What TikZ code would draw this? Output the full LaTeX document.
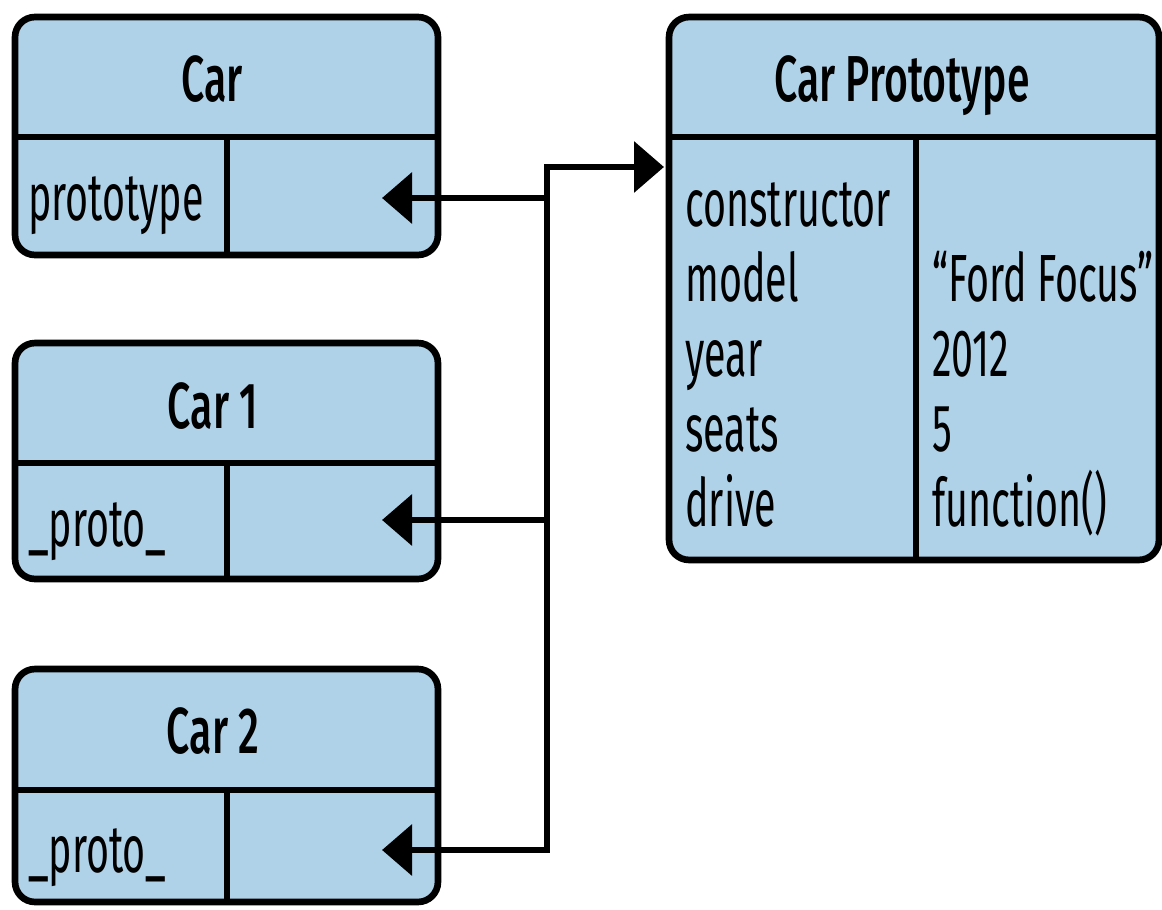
\documentclass[tikz,border=0pt]{standalone}
\usepackage{fontspec}
\setmainfont{Fira Sans}[FakeStretch=0.59]
\newfontfamily\headfont{Fira Sans Medium}[FakeStretch=0.63]
\usetikzlibrary{arrows.meta, positioning}
\tikzset{>={Triangle[length=0.6cm, width=1cm]}}
\definecolor{boxblue}{RGB}{175,210,232}

\begin{document}
\begin{tikzpicture}[x=0.02cm, y=-0.02cm,
  objbox/.style={draw, line width=3.8pt, fill=boxblue, rounded corners=0.4cm, inner sep=0pt, outer sep=0pt},
  rule/.style={line width=3.8pt},
  title/.style={font=\fontsize{37}{40}\headfont, anchor=base, inner sep=0pt},
  slot/.style={font=\fontsize{38}{40}\selectfont, anchor=base west, inner sep=0pt},
  link/.style={->, line width=3.8pt}
]
\useasboundingbox (0,0) rectangle (1162,909);

% Object boxes
\node[objbox, minimum width=8.46cm, minimum height=4.76cm] (car) at (226.5,136) {};
\node[objbox, minimum width=8.46cm, minimum height=4.72cm] (car1) at (226.5,461) {};
\node[objbox, minimum width=8.46cm, minimum height=4.66cm] (car2) at (226.5,785.5) {};
\node[objbox, minimum width=9.8cm, minimum height=10.86cm] (proto) at (914,288.5) {};

% Header and slot rules
\draw[rule] (15,137) -- (438,137);
\draw[rule] (227,137) -- (227,255);
\draw[rule] (15,463) -- (438,463);
\draw[rule] (227,463) -- (227,579);
\draw[rule] (15,790) -- (438,790);
\draw[rule] (227,790) -- (227,902);
\draw[rule] (669,137) -- (1159,137);
\draw[rule] (916,137) -- (916,560);

% Titles
\node[title] (carname) at (212,102) {Car};
\node[title] (car1name) at (213,428) {Car 1};
\node[title] (car2name) at (213,753) {Car 2};
\node[title] (protoname) at (902,102) {Car Prototype};

% Slots
\node[slot] (carslot) at (28,220) {prototype};
\node[slot] (car1slot) at (28,546) {\_proto\_};
\node[slot] (car2slot) at (28,872) {\_proto\_};

\node[slot] (kconst) at (685,226) {constructor};
\node[slot] (kmodel) at (685,301) {model};
\node[slot] (kyear) at (685,376) {year};
\node[slot] (kseats) at (685,451) {seats};
\node[slot] (kdrive) at (685,526) {drive};
\node[slot] (vmodel) at (932,301) {``Ford Focus''};
\node[slot] (vyear) at (932,376) {2012};
\node[slot] (vseats) at (932,451) {5};
\node[slot] (vdrive) at (932,526) {function()};

% Links to the prototype
\coordinate (jtop) at (547,167);
\coordinate (jcar) at (547,198);
\coordinate (jcar1) at (547,520);
\coordinate (jbot) at (547,850);
\coordinate (carin) at (382,198);
\coordinate (car1in) at (382,520);
\coordinate (car2in) at (382,850);
\coordinate (protoin) at (664,167);

\draw[link, line cap=rect] (jtop) -- (protoin);
\draw[link] (jtop) -- (jbot) -- (car2in);
\draw[link] (jcar) -- (carin);
\draw[link] (jcar1) -- (car1in);

\end{tikzpicture}
\end{document}
